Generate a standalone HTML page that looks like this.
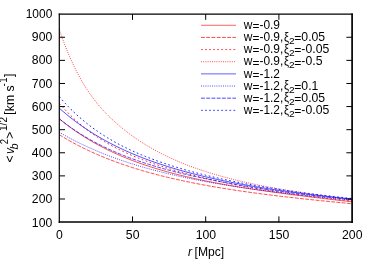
<!DOCTYPE html>
<html><head><meta charset="utf-8"><style>html,body{margin:0;padding:0;background:#fff;overflow:hidden}body{width:374px;height:261px;position:relative}</style></head><body>
<svg width="374" height="261" viewBox="0 0 374 261" style="position:absolute;left:0;top:0;will-change:transform">
<rect x="0" y="0" width="374" height="261" fill="#fff"/>
<path d="M59.30,118.72 L60.76,119.93 L62.23,121.12 L63.69,122.30 L65.16,123.45 L66.62,124.58 L68.08,125.69 L69.55,126.79 L71.01,127.87 L72.48,128.92 L73.94,129.97 L75.40,130.99 L76.87,132.00 L78.33,132.99 L79.80,133.96 L81.26,134.92 L82.72,135.86 L84.19,136.79 L85.65,137.70 L87.12,138.60 L88.58,139.49 L90.04,140.36 L91.51,141.21 L92.97,142.06 L94.44,142.88 L95.90,143.70 L97.36,144.50 L98.83,145.30 L100.29,146.07 L101.76,146.84 L103.22,147.60 L104.68,148.34 L106.15,149.07 L107.61,149.79 L109.08,150.50 L110.54,151.20 L112.00,151.89 L113.47,152.57 L114.93,153.24 L116.40,153.90 L117.86,154.55 L119.32,155.18 L120.79,155.81 L122.25,156.43 L123.72,157.05 L125.18,157.65 L126.64,158.24 L128.11,158.83 L129.57,159.41 L131.04,159.97 L132.50,160.53 L133.96,161.09 L135.43,161.63 L136.89,162.17 L138.36,162.70 L139.82,163.22 L141.28,163.74 L142.75,164.25 L144.21,164.75 L145.68,165.24 L147.14,165.73 L148.60,166.21 L150.07,166.69 L151.53,167.15 L153.00,167.62 L154.46,168.07 L155.92,168.52 L157.39,168.97 L158.85,169.40 L160.32,169.84 L161.78,170.26 L163.24,170.68 L164.71,171.10 L166.17,171.51 L167.64,171.92 L169.10,172.32 L170.56,172.71 L172.03,173.10 L173.49,173.49 L174.96,173.87 L176.42,174.25 L177.88,174.62 L179.35,174.99 L180.81,175.35 L182.28,175.71 L183.74,176.06 L185.20,176.41 L186.67,176.76 L188.13,177.10 L189.60,177.44 L191.06,177.77 L192.52,178.10 L193.99,178.43 L195.45,178.75 L196.92,179.07 L198.38,179.39 L199.84,179.70 L201.31,180.01 L202.77,180.32 L204.24,180.62 L205.70,180.92 L207.16,181.22 L208.63,181.51 L210.09,181.80 L211.56,182.09 L213.02,182.37 L214.48,182.65 L215.95,182.93 L217.41,183.21 L218.88,183.48 L220.34,183.75 L221.80,184.02 L223.27,184.28 L224.73,184.55 L226.20,184.81 L227.66,185.07 L229.12,185.32 L230.59,185.57 L232.05,185.83 L233.52,186.07 L234.98,186.32 L236.44,186.57 L237.91,186.81 L239.37,187.05 L240.84,187.29 L242.30,187.52 L243.76,187.76 L245.23,187.99 L246.69,188.22 L248.16,188.45 L249.62,188.67 L251.08,188.90 L252.55,189.12 L254.01,189.34 L255.48,189.56 L256.94,189.78 L258.40,190.00 L259.87,190.21 L261.33,190.43 L262.80,190.64 L264.26,190.85 L265.72,191.06 L267.19,191.27 L268.65,191.47 L270.12,191.68 L271.58,191.88 L273.04,192.09 L274.51,192.29 L275.97,192.49 L277.44,192.69 L278.90,192.88 L280.36,193.08 L281.83,193.28 L283.29,193.47 L284.76,193.66 L286.22,193.86 L287.68,194.05 L289.15,194.24 L290.61,194.43 L292.08,194.62 L293.54,194.80 L295.00,194.99 L296.47,195.18 L297.93,195.36 L299.40,195.55 L300.86,195.73 L302.32,195.91 L303.79,196.09 L305.25,196.28 L306.72,196.46 L308.18,196.64 L309.64,196.82 L311.11,197.00 L312.57,197.17 L314.04,197.35 L315.50,197.53 L316.96,197.71 L318.43,197.88 L319.89,198.06 L321.36,198.23 L322.82,198.41 L324.28,198.58 L325.75,198.76 L327.21,198.93 L328.68,199.10 L330.14,199.27 L331.60,199.45 L333.07,199.62 L334.53,199.79 L336.00,199.96 L337.46,200.13 L338.92,200.30 L340.39,200.47 L341.85,200.65 L343.32,200.82 L344.78,200.99 L346.24,201.16 L347.71,201.33 L349.17,201.49 L350.64,201.66 L352.10,201.83" fill="none" stroke="#ff0000" stroke-width="0.72"/>
<path d="M59.30,134.72 L60.76,135.62 L62.23,136.51 L63.69,137.39 L65.16,138.26 L66.62,139.11 L68.08,139.95 L69.55,140.78 L71.01,141.60 L72.48,142.40 L73.94,143.20 L75.40,143.98 L76.87,144.76 L78.33,145.52 L79.80,146.27 L81.26,147.01 L82.72,147.74 L84.19,148.46 L85.65,149.18 L87.12,149.88 L88.58,150.57 L90.04,151.25 L91.51,151.93 L92.97,152.59 L94.44,153.25 L95.90,153.89 L97.36,154.53 L98.83,155.16 L100.29,155.79 L101.76,156.40 L103.22,157.00 L104.68,157.60 L106.15,158.19 L107.61,158.77 L109.08,159.35 L110.54,159.92 L112.00,160.48 L113.47,161.03 L114.93,161.57 L116.40,162.11 L117.86,162.64 L119.32,163.17 L120.79,163.69 L122.25,164.20 L123.72,164.71 L125.18,165.21 L126.64,165.70 L128.11,166.19 L129.57,166.67 L131.04,167.14 L132.50,167.61 L133.96,168.07 L135.43,168.53 L136.89,168.98 L138.36,169.43 L139.82,169.87 L141.28,170.31 L142.75,170.74 L144.21,171.17 L145.68,171.59 L147.14,172.00 L148.60,172.41 L150.07,172.82 L151.53,173.22 L153.00,173.62 L154.46,174.01 L155.92,174.40 L157.39,174.78 L158.85,175.16 L160.32,175.53 L161.78,175.90 L163.24,176.27 L164.71,176.63 L166.17,176.99 L167.64,177.34 L169.10,177.69 L170.56,178.03 L172.03,178.38 L173.49,178.71 L174.96,179.05 L176.42,179.38 L177.88,179.71 L179.35,180.03 L180.81,180.35 L182.28,180.67 L183.74,180.98 L185.20,181.29 L186.67,181.60 L188.13,181.90 L189.60,182.20 L191.06,182.50 L192.52,182.79 L193.99,183.08 L195.45,183.37 L196.92,183.65 L198.38,183.94 L199.84,184.21 L201.31,184.49 L202.77,184.76 L204.24,185.04 L205.70,185.30 L207.16,185.57 L208.63,185.83 L210.09,186.09 L211.56,186.35 L213.02,186.61 L214.48,186.86 L215.95,187.11 L217.41,187.36 L218.88,187.60 L220.34,187.85 L221.80,188.09 L223.27,188.33 L224.73,188.56 L226.20,188.80 L227.66,189.03 L229.12,189.26 L230.59,189.49 L232.05,189.71 L233.52,189.94 L234.98,190.16 L236.44,190.38 L237.91,190.60 L239.37,190.82 L240.84,191.03 L242.30,191.24 L243.76,191.45 L245.23,191.66 L246.69,191.87 L248.16,192.08 L249.62,192.28 L251.08,192.48 L252.55,192.68 L254.01,192.88 L255.48,193.08 L256.94,193.28 L258.40,193.47 L259.87,193.67 L261.33,193.86 L262.80,194.05 L264.26,194.24 L265.72,194.42 L267.19,194.61 L268.65,194.80 L270.12,194.98 L271.58,195.16 L273.04,195.34 L274.51,195.52 L275.97,195.70 L277.44,195.88 L278.90,196.05 L280.36,196.23 L281.83,196.40 L283.29,196.57 L284.76,196.75 L286.22,196.92 L287.68,197.09 L289.15,197.25 L290.61,197.42 L292.08,197.59 L293.54,197.75 L295.00,197.92 L296.47,198.08 L297.93,198.24 L299.40,198.40 L300.86,198.57 L302.32,198.73 L303.79,198.88 L305.25,199.04 L306.72,199.20 L308.18,199.36 L309.64,199.51 L311.11,199.67 L312.57,199.82 L314.04,199.97 L315.50,200.13 L316.96,200.28 L318.43,200.43 L319.89,200.58 L321.36,200.73 L322.82,200.88 L324.28,201.03 L325.75,201.18 L327.21,201.32 L328.68,201.47 L330.14,201.62 L331.60,201.76 L333.07,201.91 L334.53,202.05 L336.00,202.20 L337.46,202.34 L338.92,202.48 L340.39,202.63 L341.85,202.77 L343.32,202.91 L344.78,203.05 L346.24,203.19 L347.71,203.33 L349.17,203.47 L350.64,203.61 L352.10,203.75" fill="none" stroke="#ff0000" stroke-width="0.72" stroke-dasharray="3.9 1.33"/>
<path d="M59.30,103.25 L60.76,104.96 L62.23,106.63 L63.69,108.25 L65.16,109.85 L66.62,111.40 L68.08,112.92 L69.55,114.40 L71.01,115.85 L72.48,117.27 L73.94,118.65 L75.40,120.00 L76.87,121.32 L78.33,122.62 L79.80,123.88 L81.26,125.12 L82.72,126.33 L84.19,127.51 L85.65,128.67 L87.12,129.80 L88.58,130.91 L90.04,132.00 L91.51,133.06 L92.97,134.10 L94.44,135.12 L95.90,136.12 L97.36,137.09 L98.83,138.05 L100.29,138.99 L101.76,139.91 L103.22,140.81 L104.68,141.69 L106.15,142.56 L107.61,143.41 L109.08,144.24 L110.54,145.06 L112.00,145.86 L113.47,146.64 L114.93,147.42 L116.40,148.17 L117.86,148.92 L119.32,149.65 L120.79,150.36 L122.25,151.07 L123.72,151.76 L125.18,152.44 L126.64,153.10 L128.11,153.76 L129.57,154.41 L131.04,155.04 L132.50,155.66 L133.96,156.28 L135.43,156.88 L136.89,157.48 L138.36,158.06 L139.82,158.64 L141.28,159.21 L142.75,159.76 L144.21,160.31 L145.68,160.86 L147.14,161.39 L148.60,161.92 L150.07,162.44 L151.53,162.95 L153.00,163.46 L154.46,163.96 L155.92,164.45 L157.39,164.94 L158.85,165.42 L160.32,165.89 L161.78,166.36 L163.24,166.82 L164.71,167.28 L166.17,167.73 L167.64,168.18 L169.10,168.63 L170.56,169.07 L172.03,169.50 L173.49,169.93 L174.96,170.36 L176.42,170.78 L177.88,171.20 L179.35,171.61 L180.81,172.02 L182.28,172.42 L183.74,172.82 L185.20,173.22 L186.67,173.61 L188.13,174.00 L189.60,174.39 L191.06,174.77 L192.52,175.15 L193.99,175.52 L195.45,175.89 L196.92,176.26 L198.38,176.62 L199.84,176.98 L201.31,177.33 L202.77,177.69 L204.24,178.03 L205.70,178.38 L207.16,178.72 L208.63,179.06 L210.09,179.40 L211.56,179.73 L213.02,180.06 L214.48,180.38 L215.95,180.71 L217.41,181.03 L218.88,181.34 L220.34,181.66 L221.80,181.97 L223.27,182.28 L224.73,182.58 L226.20,182.88 L227.66,183.18 L229.12,183.48 L230.59,183.77 L232.05,184.06 L233.52,184.35 L234.98,184.64 L236.44,184.92 L237.91,185.20 L239.37,185.48 L240.84,185.75 L242.30,186.02 L243.76,186.29 L245.23,186.56 L246.69,186.83 L248.16,187.09 L249.62,187.35 L251.08,187.61 L252.55,187.86 L254.01,188.12 L255.48,188.37 L256.94,188.62 L258.40,188.86 L259.87,189.11 L261.33,189.35 L262.80,189.59 L264.26,189.83 L265.72,190.07 L267.19,190.30 L268.65,190.53 L270.12,190.76 L271.58,190.99 L273.04,191.21 L274.51,191.44 L275.97,191.66 L277.44,191.88 L278.90,192.10 L280.36,192.31 L281.83,192.53 L283.29,192.74 L284.76,192.95 L286.22,193.16 L287.68,193.37 L289.15,193.57 L290.61,193.78 L292.08,193.98 L293.54,194.18 L295.00,194.38 L296.47,194.57 L297.93,194.77 L299.40,194.96 L300.86,195.16 L302.32,195.35 L303.79,195.53 L305.25,195.72 L306.72,195.91 L308.18,196.09 L309.64,196.27 L311.11,196.46 L312.57,196.63 L314.04,196.81 L315.50,196.99 L316.96,197.17 L318.43,197.34 L319.89,197.51 L321.36,197.68 L322.82,197.85 L324.28,198.02 L325.75,198.19 L327.21,198.35 L328.68,198.52 L330.14,198.68 L331.60,198.84 L333.07,199.00 L334.53,199.16 L336.00,199.32 L337.46,199.48 L338.92,199.64 L340.39,199.79 L341.85,199.94 L343.32,200.10 L344.78,200.25 L346.24,200.40 L347.71,200.55 L349.17,200.69 L350.64,200.84 L352.10,200.99" fill="none" stroke="#ff0000" stroke-width="0.88" stroke-dasharray="1.7 2.5"/>
<path d="M59.30,29.47 L60.76,33.77 L62.23,37.90 L63.69,41.89 L65.16,45.73 L66.62,49.43 L68.08,53.01 L69.55,56.45 L71.01,59.77 L72.48,62.98 L73.94,66.07 L75.40,69.06 L76.87,71.95 L78.33,74.74 L79.80,77.43 L81.26,80.03 L82.72,82.55 L84.19,84.98 L85.65,87.33 L87.12,89.61 L88.58,91.81 L90.04,93.94 L91.51,96.00 L92.97,98.00 L94.44,99.94 L95.90,101.81 L97.36,103.63 L98.83,105.40 L100.29,107.12 L101.76,108.78 L103.22,110.40 L104.68,111.98 L106.15,113.52 L107.61,115.01 L109.08,116.47 L110.54,117.90 L112.00,119.29 L113.47,120.64 L114.93,121.97 L116.40,123.27 L117.86,124.54 L119.32,125.79 L120.79,127.02 L122.25,128.22 L123.72,129.40 L125.18,130.56 L126.64,131.69 L128.11,132.81 L129.57,133.91 L131.04,134.99 L132.50,136.04 L133.96,137.08 L135.43,138.11 L136.89,139.11 L138.36,140.10 L139.82,141.07 L141.28,142.02 L142.75,142.95 L144.21,143.87 L145.68,144.78 L147.14,145.67 L148.60,146.54 L150.07,147.40 L151.53,148.25 L153.00,149.08 L154.46,149.89 L155.92,150.70 L157.39,151.49 L158.85,152.26 L160.32,153.03 L161.78,153.78 L163.24,154.52 L164.71,155.24 L166.17,155.96 L167.64,156.66 L169.10,157.36 L170.56,158.04 L172.03,158.71 L173.49,159.37 L174.96,160.02 L176.42,160.66 L177.88,161.29 L179.35,161.91 L180.81,162.52 L182.28,163.12 L183.74,163.71 L185.20,164.29 L186.67,164.87 L188.13,165.43 L189.60,165.99 L191.06,166.54 L192.52,167.08 L193.99,167.61 L195.45,168.13 L196.92,168.65 L198.38,169.16 L199.84,169.66 L201.31,170.15 L202.77,170.64 L204.24,171.12 L205.70,171.59 L207.16,172.06 L208.63,172.52 L210.09,172.97 L211.56,173.42 L213.02,173.86 L214.48,174.29 L215.95,174.72 L217.41,175.14 L218.88,175.56 L220.34,175.97 L221.80,176.38 L223.27,176.78 L224.73,177.17 L226.20,177.56 L227.66,177.95 L229.12,178.33 L230.59,178.70 L232.05,179.07 L233.52,179.44 L234.98,179.80 L236.44,180.15 L237.91,180.51 L239.37,180.85 L240.84,181.20 L242.30,181.54 L243.76,181.87 L245.23,182.20 L246.69,182.53 L248.16,182.85 L249.62,183.17 L251.08,183.48 L252.55,183.80 L254.01,184.10 L255.48,184.41 L256.94,184.71 L258.40,185.01 L259.87,185.30 L261.33,185.59 L262.80,185.88 L264.26,186.17 L265.72,186.45 L267.19,186.73 L268.65,187.00 L270.12,187.28 L271.58,187.55 L273.04,187.82 L274.51,188.08 L275.97,188.34 L277.44,188.60 L278.90,188.86 L280.36,189.12 L281.83,189.37 L283.29,189.62 L284.76,189.87 L286.22,190.11 L287.68,190.36 L289.15,190.60 L290.61,190.84 L292.08,191.08 L293.54,191.31 L295.00,191.54 L296.47,191.78 L297.93,192.01 L299.40,192.23 L300.86,192.46 L302.32,192.68 L303.79,192.91 L305.25,193.13 L306.72,193.35 L308.18,193.57 L309.64,193.78 L311.11,194.00 L312.57,194.21 L314.04,194.42 L315.50,194.63 L316.96,194.84 L318.43,195.05 L319.89,195.26 L321.36,195.47 L322.82,195.67 L324.28,195.87 L325.75,196.08 L327.21,196.28 L328.68,196.48 L330.14,196.68 L331.60,196.88 L333.07,197.07 L334.53,197.27 L336.00,197.47 L337.46,197.66 L338.92,197.86 L340.39,198.05 L341.85,198.24 L343.32,198.43 L344.78,198.62 L346.24,198.82 L347.71,199.01 L349.17,199.19 L350.64,199.38 L352.10,199.57" fill="none" stroke="#ff0000" stroke-width="0.72" stroke-dasharray="1.0 1.2"/>
<path d="M59.30,108.15 L60.76,109.45 L62.23,110.73 L63.69,111.99 L65.16,113.22 L66.62,114.44 L68.08,115.64 L69.55,116.82 L71.01,117.98 L72.48,119.12 L73.94,120.24 L75.40,121.35 L76.87,122.44 L78.33,123.51 L79.80,124.56 L81.26,125.60 L82.72,126.62 L84.19,127.63 L85.65,128.62 L87.12,129.60 L88.58,130.56 L90.04,131.51 L91.51,132.44 L92.97,133.36 L94.44,134.26 L95.90,135.15 L97.36,136.03 L98.83,136.90 L100.29,137.75 L101.76,138.59 L103.22,139.42 L104.68,140.23 L106.15,141.04 L107.61,141.83 L109.08,142.61 L110.54,143.38 L112.00,144.14 L113.47,144.89 L114.93,145.62 L116.40,146.35 L117.86,147.07 L119.32,147.77 L120.79,148.47 L122.25,149.16 L123.72,149.84 L125.18,150.50 L126.64,151.16 L128.11,151.81 L129.57,152.46 L131.04,153.09 L132.50,153.71 L133.96,154.33 L135.43,154.94 L136.89,155.54 L138.36,156.13 L139.82,156.72 L141.28,157.29 L142.75,157.86 L144.21,158.42 L145.68,158.98 L147.14,159.53 L148.60,160.07 L150.07,160.60 L151.53,161.13 L153.00,161.65 L154.46,162.17 L155.92,162.67 L157.39,163.18 L158.85,163.67 L160.32,164.16 L161.78,164.64 L163.24,165.12 L164.71,165.59 L166.17,166.06 L167.64,166.52 L169.10,166.98 L170.56,167.43 L172.03,167.87 L173.49,168.31 L174.96,168.75 L176.42,169.18 L177.88,169.60 L179.35,170.02 L180.81,170.44 L182.28,170.85 L183.74,171.25 L185.20,171.66 L186.67,172.05 L188.13,172.45 L189.60,172.83 L191.06,173.22 L192.52,173.60 L193.99,173.97 L195.45,174.34 L196.92,174.71 L198.38,175.07 L199.84,175.43 L201.31,175.79 L202.77,176.14 L204.24,176.49 L205.70,176.83 L207.16,177.17 L208.63,177.51 L210.09,177.84 L211.56,178.17 L213.02,178.49 L214.48,178.82 L215.95,179.14 L217.41,179.45 L218.88,179.76 L220.34,180.07 L221.80,180.38 L223.27,180.68 L224.73,180.98 L226.20,181.28 L227.66,181.57 L229.12,181.86 L230.59,182.15 L232.05,182.44 L233.52,182.72 L234.98,183.00 L236.44,183.28 L237.91,183.55 L239.37,183.82 L240.84,184.09 L242.30,184.36 L243.76,184.62 L245.23,184.88 L246.69,185.14 L248.16,185.39 L249.62,185.65 L251.08,185.90 L252.55,186.15 L254.01,186.39 L255.48,186.64 L256.94,186.88 L258.40,187.12 L259.87,187.36 L261.33,187.59 L262.80,187.83 L264.26,188.06 L265.72,188.29 L267.19,188.51 L268.65,188.74 L270.12,188.96 L271.58,189.18 L273.04,189.40 L274.51,189.62 L275.97,189.84 L277.44,190.05 L278.90,190.26 L280.36,190.47 L281.83,190.68 L283.29,190.89 L284.76,191.09 L286.22,191.29 L287.68,191.50 L289.15,191.70 L290.61,191.89 L292.08,192.09 L293.54,192.29 L295.00,192.48 L296.47,192.67 L297.93,192.86 L299.40,193.05 L300.86,193.24 L302.32,193.43 L303.79,193.61 L305.25,193.80 L306.72,193.98 L308.18,194.16 L309.64,194.34 L311.11,194.52 L312.57,194.69 L314.04,194.87 L315.50,195.04 L316.96,195.22 L318.43,195.39 L319.89,195.56 L321.36,195.73 L322.82,195.90 L324.28,196.07 L325.75,196.23 L327.21,196.40 L328.68,196.56 L330.14,196.73 L331.60,196.89 L333.07,197.05 L334.53,197.21 L336.00,197.37 L337.46,197.53 L338.92,197.69 L340.39,197.84 L341.85,198.00 L343.32,198.15 L344.78,198.31 L346.24,198.46 L347.71,198.61 L349.17,198.76 L350.64,198.92 L352.10,199.06" fill="none" stroke="#0000ff" stroke-width="0.72"/>
<path d="M59.30,132.20 L60.76,133.06 L62.23,133.90 L63.69,134.74 L65.16,135.57 L66.62,136.38 L68.08,137.18 L69.55,137.98 L71.01,138.76 L72.48,139.53 L73.94,140.29 L75.40,141.05 L76.87,141.79 L78.33,142.52 L79.80,143.24 L81.26,143.96 L82.72,144.66 L84.19,145.35 L85.65,146.04 L87.12,146.72 L88.58,147.39 L90.04,148.05 L91.51,148.70 L92.97,149.34 L94.44,149.97 L95.90,150.60 L97.36,151.22 L98.83,151.83 L100.29,152.44 L101.76,153.03 L103.22,153.62 L104.68,154.20 L106.15,154.78 L107.61,155.34 L109.08,155.90 L110.54,156.46 L112.00,157.00 L113.47,157.54 L114.93,158.07 L116.40,158.60 L117.86,159.12 L119.32,159.64 L120.79,160.14 L122.25,160.65 L123.72,161.14 L125.18,161.63 L126.64,162.12 L128.11,162.59 L129.57,163.07 L131.04,163.53 L132.50,164.00 L133.96,164.45 L135.43,164.90 L136.89,165.35 L138.36,165.79 L139.82,166.22 L141.28,166.66 L142.75,167.08 L144.21,167.50 L145.68,167.92 L147.14,168.33 L148.60,168.74 L150.07,169.14 L151.53,169.54 L153.00,169.93 L154.46,170.32 L155.92,170.70 L157.39,171.08 L158.85,171.46 L160.32,171.83 L161.78,172.20 L163.24,172.56 L164.71,172.92 L166.17,173.28 L167.64,173.63 L169.10,173.98 L170.56,174.32 L172.03,174.66 L173.49,175.00 L174.96,175.33 L176.42,175.66 L177.88,175.99 L179.35,176.31 L180.81,176.63 L182.28,176.95 L183.74,177.26 L185.20,177.57 L186.67,177.88 L188.13,178.19 L189.60,178.49 L191.06,178.78 L192.52,179.08 L193.99,179.37 L195.45,179.66 L196.92,179.95 L198.38,180.23 L199.84,180.51 L201.31,180.79 L202.77,181.06 L204.24,181.33 L205.70,181.60 L207.16,181.87 L208.63,182.13 L210.09,182.40 L211.56,182.66 L213.02,182.91 L214.48,183.17 L215.95,183.42 L217.41,183.67 L218.88,183.92 L220.34,184.16 L221.80,184.41 L223.27,184.65 L224.73,184.89 L226.20,185.12 L227.66,185.36 L229.12,185.59 L230.59,185.82 L232.05,186.05 L233.52,186.28 L234.98,186.50 L236.44,186.72 L237.91,186.94 L239.37,187.16 L240.84,187.38 L242.30,187.59 L243.76,187.81 L245.23,188.02 L246.69,188.23 L248.16,188.44 L249.62,188.64 L251.08,188.85 L252.55,189.05 L254.01,189.25 L255.48,189.45 L256.94,189.65 L258.40,189.85 L259.87,190.05 L261.33,190.24 L262.80,190.43 L264.26,190.62 L265.72,190.81 L267.19,191.00 L268.65,191.19 L270.12,191.37 L271.58,191.56 L273.04,191.74 L274.51,191.92 L275.97,192.10 L277.44,192.28 L278.90,192.46 L280.36,192.64 L281.83,192.81 L283.29,192.99 L284.76,193.16 L286.22,193.33 L287.68,193.50 L289.15,193.67 L290.61,193.84 L292.08,194.01 L293.54,194.18 L295.00,194.34 L296.47,194.51 L297.93,194.67 L299.40,194.84 L300.86,195.00 L302.32,195.16 L303.79,195.32 L305.25,195.48 L306.72,195.64 L308.18,195.79 L309.64,195.95 L311.11,196.11 L312.57,196.26 L314.04,196.42 L315.50,196.57 L316.96,196.72 L318.43,196.88 L319.89,197.03 L321.36,197.18 L322.82,197.33 L324.28,197.48 L325.75,197.63 L327.21,197.77 L328.68,197.92 L330.14,198.07 L331.60,198.21 L333.07,198.36 L334.53,198.50 L336.00,198.65 L337.46,198.79 L338.92,198.94 L340.39,199.08 L341.85,199.22 L343.32,199.36 L344.78,199.50 L346.24,199.64 L347.71,199.79 L349.17,199.93 L350.64,200.06 L352.10,200.20" fill="none" stroke="#0000ff" stroke-width="0.72" stroke-dasharray="1.0 1.2"/>
<path d="M59.30,118.87 L60.76,120.03 L62.23,121.18 L63.69,122.31 L65.16,123.41 L66.62,124.50 L68.08,125.57 L69.55,126.62 L71.01,127.65 L72.48,128.67 L73.94,129.66 L75.40,130.65 L76.87,131.61 L78.33,132.56 L79.80,133.49 L81.26,134.41 L82.72,135.31 L84.19,136.20 L85.65,137.07 L87.12,137.93 L88.58,138.77 L90.04,139.60 L91.51,140.42 L92.97,141.23 L94.44,142.02 L95.90,142.80 L97.36,143.56 L98.83,144.32 L100.29,145.06 L101.76,145.79 L103.22,146.51 L104.68,147.22 L106.15,147.92 L107.61,148.61 L109.08,149.29 L110.54,149.95 L112.00,150.61 L113.47,151.26 L114.93,151.90 L116.40,152.53 L117.86,153.14 L119.32,153.75 L120.79,154.36 L122.25,154.95 L123.72,155.53 L125.18,156.11 L126.64,156.67 L128.11,157.23 L129.57,157.79 L131.04,158.33 L132.50,158.87 L133.96,159.39 L135.43,159.92 L136.89,160.43 L138.36,160.94 L139.82,161.44 L141.28,161.93 L142.75,162.42 L144.21,162.90 L145.68,163.38 L147.14,163.84 L148.60,164.31 L150.07,164.76 L151.53,165.21 L153.00,165.66 L154.46,166.10 L155.92,166.53 L157.39,166.96 L158.85,167.39 L160.32,167.80 L161.78,168.22 L163.24,168.63 L164.71,169.03 L166.17,169.43 L167.64,169.82 L169.10,170.21 L170.56,170.60 L172.03,170.98 L173.49,171.36 L174.96,171.73 L176.42,172.10 L177.88,172.46 L179.35,172.82 L180.81,173.18 L182.28,173.54 L183.74,173.88 L185.20,174.23 L186.67,174.57 L188.13,174.91 L189.60,175.25 L191.06,175.58 L192.52,175.91 L193.99,176.24 L195.45,176.56 L196.92,176.88 L198.38,177.20 L199.84,177.51 L201.31,177.82 L202.77,178.13 L204.24,178.44 L205.70,178.74 L207.16,179.05 L208.63,179.34 L210.09,179.64 L211.56,179.94 L213.02,180.23 L214.48,180.52 L215.95,180.80 L217.41,181.09 L218.88,181.37 L220.34,181.65 L221.80,181.93 L223.27,182.20 L224.73,182.48 L226.20,182.75 L227.66,183.02 L229.12,183.28 L230.59,183.55 L232.05,183.81 L233.52,184.07 L234.98,184.33 L236.44,184.58 L237.91,184.84 L239.37,185.09 L240.84,185.34 L242.30,185.59 L243.76,185.83 L245.23,186.08 L246.69,186.32 L248.16,186.56 L249.62,186.80 L251.08,187.04 L252.55,187.27 L254.01,187.50 L255.48,187.73 L256.94,187.96 L258.40,188.19 L259.87,188.42 L261.33,188.64 L262.80,188.86 L264.26,189.08 L265.72,189.30 L267.19,189.52 L268.65,189.73 L270.12,189.94 L271.58,190.16 L273.04,190.37 L274.51,190.57 L275.97,190.78 L277.44,190.99 L278.90,191.19 L280.36,191.39 L281.83,191.59 L283.29,191.79 L284.76,191.99 L286.22,192.18 L287.68,192.38 L289.15,192.57 L290.61,192.76 L292.08,192.95 L293.54,193.14 L295.00,193.33 L296.47,193.51 L297.93,193.70 L299.40,193.88 L300.86,194.06 L302.32,194.24 L303.79,194.42 L305.25,194.60 L306.72,194.77 L308.18,194.95 L309.64,195.12 L311.11,195.29 L312.57,195.46 L314.04,195.63 L315.50,195.80 L316.96,195.97 L318.43,196.13 L319.89,196.30 L321.36,196.46 L322.82,196.62 L324.28,196.78 L325.75,196.94 L327.21,197.10 L328.68,197.26 L330.14,197.41 L331.60,197.57 L333.07,197.72 L334.53,197.87 L336.00,198.02 L337.46,198.17 L338.92,198.32 L340.39,198.47 L341.85,198.62 L343.32,198.76 L344.78,198.91 L346.24,199.05 L347.71,199.19 L349.17,199.34 L350.64,199.48 L352.10,199.62" fill="none" stroke="#0000ff" stroke-width="0.72" stroke-dasharray="3.9 1.33"/>
<path d="M59.30,96.67 L60.76,98.38 L62.23,100.04 L63.69,101.67 L65.16,103.27 L66.62,104.83 L68.08,106.36 L69.55,107.86 L71.01,109.33 L72.48,110.76 L73.94,112.17 L75.40,113.55 L76.87,114.89 L78.33,116.22 L79.80,117.51 L81.26,118.78 L82.72,120.02 L84.19,121.24 L85.65,122.44 L87.12,123.61 L88.58,124.76 L90.04,125.88 L91.51,126.99 L92.97,128.07 L94.44,129.13 L95.90,130.18 L97.36,131.20 L98.83,132.20 L100.29,133.19 L101.76,134.15 L103.22,135.10 L104.68,136.03 L106.15,136.95 L107.61,137.85 L109.08,138.73 L110.54,139.59 L112.00,140.45 L113.47,141.28 L114.93,142.10 L116.40,142.91 L117.86,143.70 L119.32,144.48 L120.79,145.25 L122.25,146.00 L123.72,146.74 L125.18,147.47 L126.64,148.19 L128.11,148.89 L129.57,149.59 L131.04,150.27 L132.50,150.94 L133.96,151.60 L135.43,152.26 L136.89,152.90 L138.36,153.53 L139.82,154.15 L141.28,154.76 L142.75,155.37 L144.21,155.96 L145.68,156.55 L147.14,157.12 L148.60,157.69 L150.07,158.25 L151.53,158.81 L153.00,159.35 L154.46,159.89 L155.92,160.42 L157.39,160.95 L158.85,161.47 L160.32,161.98 L161.78,162.48 L163.24,162.98 L164.71,163.47 L166.17,163.96 L167.64,164.44 L169.10,164.91 L170.56,165.38 L172.03,165.85 L173.49,166.31 L174.96,166.76 L176.42,167.21 L177.88,167.65 L179.35,168.09 L180.81,168.52 L182.28,168.95 L183.74,169.38 L185.20,169.80 L186.67,170.21 L188.13,170.62 L189.60,171.02 L191.06,171.43 L192.52,171.82 L193.99,172.21 L195.45,172.60 L196.92,172.99 L198.38,173.37 L199.84,173.74 L201.31,174.11 L202.77,174.48 L204.24,174.84 L205.70,175.20 L207.16,175.56 L208.63,175.91 L210.09,176.26 L211.56,176.60 L213.02,176.95 L214.48,177.28 L215.95,177.62 L217.41,177.95 L218.88,178.28 L220.34,178.60 L221.80,178.92 L223.27,179.24 L224.73,179.55 L226.20,179.86 L227.66,180.17 L229.12,180.48 L230.59,180.78 L232.05,181.08 L233.52,181.37 L234.98,181.67 L236.44,181.96 L237.91,182.24 L239.37,182.53 L240.84,182.81 L242.30,183.09 L243.76,183.36 L245.23,183.64 L246.69,183.91 L248.16,184.18 L249.62,184.44 L251.08,184.71 L252.55,184.97 L254.01,185.23 L255.48,185.48 L256.94,185.74 L258.40,185.99 L259.87,186.24 L261.33,186.49 L262.80,186.73 L264.26,186.97 L265.72,187.21 L267.19,187.45 L268.65,187.69 L270.12,187.92 L271.58,188.15 L273.04,188.38 L274.51,188.61 L275.97,188.84 L277.44,189.06 L278.90,189.29 L280.36,189.51 L281.83,189.72 L283.29,189.94 L284.76,190.16 L286.22,190.37 L287.68,190.58 L289.15,190.79 L290.61,191.00 L292.08,191.21 L293.54,191.41 L295.00,191.61 L296.47,191.82 L297.93,192.02 L299.40,192.21 L300.86,192.41 L302.32,192.61 L303.79,192.80 L305.25,192.99 L306.72,193.18 L308.18,193.37 L309.64,193.56 L311.11,193.75 L312.57,193.93 L314.04,194.12 L315.50,194.30 L316.96,194.48 L318.43,194.66 L319.89,194.84 L321.36,195.02 L322.82,195.20 L324.28,195.37 L325.75,195.54 L327.21,195.72 L328.68,195.89 L330.14,196.06 L331.60,196.23 L333.07,196.40 L334.53,196.57 L336.00,196.73 L337.46,196.90 L338.92,197.06 L340.39,197.23 L341.85,197.39 L343.32,197.55 L344.78,197.71 L346.24,197.87 L347.71,198.03 L349.17,198.18 L350.64,198.34 L352.10,198.50" fill="none" stroke="#0000ff" stroke-width="0.88" stroke-dasharray="1.7 2.5"/>
<path d="M201.0,25.28 L236.0,25.28" fill="none" stroke="#ff0000" stroke-width="0.62"/>
<path d="M201.0,37.43 L236.0,37.43" fill="none" stroke="#ff0000" stroke-width="0.72" stroke-dasharray="3.9 1.33"/>
<path d="M201.0,49.58 L236.0,49.58" fill="none" stroke="#ff0000" stroke-width="0.75" stroke-dasharray="1.8 2.25"/>
<path d="M201.0,61.73 L236.0,61.73" fill="none" stroke="#ff0000" stroke-width="0.7" stroke-dasharray="1.0 1.2"/>
<path d="M201.0,73.88 L236.0,73.88" fill="none" stroke="#0000ff" stroke-width="0.62"/>
<path d="M201.0,86.03 L236.0,86.03" fill="none" stroke="#0000ff" stroke-width="0.7" stroke-dasharray="1.0 1.2"/>
<path d="M201.0,98.18 L236.0,98.18" fill="none" stroke="#0000ff" stroke-width="0.72" stroke-dasharray="3.9 1.33"/>
<path d="M201.0,110.33 L236.0,110.33" fill="none" stroke="#0000ff" stroke-width="0.75" stroke-dasharray="1.8 2.25"/>
<path d="M59.3,13.55 V222.9" stroke="#000" stroke-width="1.2" fill="none"/>
<path d="M58.699999999999996,14.15 H352.90000000000003" stroke="#000" stroke-width="1.2" fill="none"/>
<path d="M352.1,13.55 V222.9" stroke="#000" stroke-width="1.7" fill="none"/>
<path d="M58.699999999999996,222.0 H352.90000000000003" stroke="#000" stroke-width="1.6" fill="none"/>
<path d="M59.3,198.99 h5.7 M352.1,198.99 h-5.7" stroke="#000" stroke-width="1" fill="none"/>
<path d="M59.3,175.89 h5.7 M352.1,175.89 h-5.7" stroke="#000" stroke-width="1" fill="none"/>
<path d="M59.3,152.78 h5.7 M352.1,152.78 h-5.7" stroke="#000" stroke-width="1" fill="none"/>
<path d="M59.3,129.68 h5.7 M352.1,129.68 h-5.7" stroke="#000" stroke-width="1" fill="none"/>
<path d="M59.3,106.57 h5.7 M352.1,106.57 h-5.7" stroke="#000" stroke-width="1" fill="none"/>
<path d="M59.3,83.47 h5.7 M352.1,83.47 h-5.7" stroke="#000" stroke-width="1" fill="none"/>
<path d="M59.3,60.36 h5.7 M352.1,60.36 h-5.7" stroke="#000" stroke-width="1" fill="none"/>
<path d="M59.3,37.26 h5.7 M352.1,37.26 h-5.7" stroke="#000" stroke-width="1" fill="none"/>
<path d="M132.50,222.1 v-5.7 M132.50,14.15 v5.7" stroke="#000" stroke-width="1" fill="none"/>
<path d="M205.70,222.1 v-5.7 M205.70,14.15 v5.7" stroke="#000" stroke-width="1" fill="none"/>
<path d="M278.90,222.1 v-5.7 M278.90,14.15 v5.7" stroke="#000" stroke-width="1" fill="none"/>
<text transform="translate(52.30,226.50) scale(0.98,1.06)" text-anchor="end" style="font-family:'Liberation Sans',sans-serif;font-size:12.5px;fill:#000">100</text>
<text transform="translate(52.30,203.09) scale(0.98,1.06)" text-anchor="end" style="font-family:'Liberation Sans',sans-serif;font-size:12.5px;fill:#000">200</text>
<text transform="translate(52.30,179.99) scale(0.98,1.06)" text-anchor="end" style="font-family:'Liberation Sans',sans-serif;font-size:12.5px;fill:#000">300</text>
<text transform="translate(52.30,156.88) scale(0.98,1.06)" text-anchor="end" style="font-family:'Liberation Sans',sans-serif;font-size:12.5px;fill:#000">400</text>
<text transform="translate(52.30,133.78) scale(0.98,1.06)" text-anchor="end" style="font-family:'Liberation Sans',sans-serif;font-size:12.5px;fill:#000">500</text>
<text transform="translate(52.30,110.67) scale(0.98,1.06)" text-anchor="end" style="font-family:'Liberation Sans',sans-serif;font-size:12.5px;fill:#000">600</text>
<text transform="translate(52.30,87.57) scale(0.98,1.06)" text-anchor="end" style="font-family:'Liberation Sans',sans-serif;font-size:12.5px;fill:#000">700</text>
<text transform="translate(52.30,64.46) scale(0.98,1.06)" text-anchor="end" style="font-family:'Liberation Sans',sans-serif;font-size:12.5px;fill:#000">800</text>
<text transform="translate(52.30,41.36) scale(0.98,1.06)" text-anchor="end" style="font-family:'Liberation Sans',sans-serif;font-size:12.5px;fill:#000">900</text>
<text transform="translate(52.30,18.00) scale(0.955,1.06)" text-anchor="end" style="font-family:'Liberation Sans',sans-serif;font-size:12.5px;fill:#000">1000</text>
<text transform="translate(59.45,238.70) scale(0.98,1.04)" text-anchor="middle" style="font-family:'Liberation Sans',sans-serif;font-size:12.5px;fill:#000">0</text>
<text transform="translate(132.65,238.70) scale(0.98,1.04)" text-anchor="middle" style="font-family:'Liberation Sans',sans-serif;font-size:12.5px;fill:#000">50</text>
<text transform="translate(205.85,238.70) scale(0.98,1.04)" text-anchor="middle" style="font-family:'Liberation Sans',sans-serif;font-size:12.5px;fill:#000">100</text>
<text transform="translate(279.05,238.70) scale(0.98,1.04)" text-anchor="middle" style="font-family:'Liberation Sans',sans-serif;font-size:12.5px;fill:#000">150</text>
<text transform="translate(352.25,238.70) scale(0.98,1.04)" text-anchor="middle" style="font-family:'Liberation Sans',sans-serif;font-size:12.5px;fill:#000">200</text>
<text transform="translate(243.80,29.03) scale(0.955,1.03)" text-anchor="start" style="font-family:'Liberation Sans',sans-serif;font-size:12.5px;fill:#000">w<tspan dy="1.1">=</tspan><tspan dy="-1.1">-</tspan>0.9</text>
<text transform="translate(243.80,41.18) scale(0.955,1.03)" text-anchor="start" style="font-family:'Liberation Sans',sans-serif;font-size:12.5px;fill:#000">w<tspan dy="1.1">=</tspan><tspan dy="-1.1">-</tspan>0.9,</text>
<text transform="translate(284.0,40.68) scale(0.83,1.0)" style="font-family:'Liberation Sans',sans-serif;font-size:12.5px;fill:#000;font-size:13.5px">ξ</text>
<text transform="translate(288.9,44.18) scale(1.08,1.0)" style="font-family:'Liberation Sans',sans-serif;font-size:12.5px;fill:#000;font-size:9.4px">2</text>
<text transform="translate(294.2,41.18) scale(0.98,1.03)" style="font-family:'Liberation Sans',sans-serif;font-size:12.5px;fill:#000"><tspan dy="1.1">=</tspan><tspan dy="-1.1">0</tspan>.05</text>
<text transform="translate(243.80,53.33) scale(0.955,1.03)" text-anchor="start" style="font-family:'Liberation Sans',sans-serif;font-size:12.5px;fill:#000">w<tspan dy="1.1">=</tspan><tspan dy="-1.1">-</tspan>0.9,</text>
<text transform="translate(284.0,52.83) scale(0.83,1.0)" style="font-family:'Liberation Sans',sans-serif;font-size:12.5px;fill:#000;font-size:13.5px">ξ</text>
<text transform="translate(288.9,56.33) scale(1.08,1.0)" style="font-family:'Liberation Sans',sans-serif;font-size:12.5px;fill:#000;font-size:9.4px">2</text>
<text transform="translate(294.2,53.33) scale(0.98,1.03)" style="font-family:'Liberation Sans',sans-serif;font-size:12.5px;fill:#000"><tspan dy="1.1">=</tspan><tspan dy="-1.1">-</tspan>0.05</text>
<text transform="translate(243.80,65.48) scale(0.955,1.03)" text-anchor="start" style="font-family:'Liberation Sans',sans-serif;font-size:12.5px;fill:#000">w<tspan dy="1.1">=</tspan><tspan dy="-1.1">-</tspan>0.9,</text>
<text transform="translate(284.0,64.98) scale(0.83,1.0)" style="font-family:'Liberation Sans',sans-serif;font-size:12.5px;fill:#000;font-size:13.5px">ξ</text>
<text transform="translate(288.9,68.48) scale(1.08,1.0)" style="font-family:'Liberation Sans',sans-serif;font-size:12.5px;fill:#000;font-size:9.4px">2</text>
<text transform="translate(294.2,65.48) scale(0.98,1.03)" style="font-family:'Liberation Sans',sans-serif;font-size:12.5px;fill:#000"><tspan dy="1.1">=</tspan><tspan dy="-1.1">-</tspan>0.5</text>
<text transform="translate(243.80,77.63) scale(0.955,1.03)" text-anchor="start" style="font-family:'Liberation Sans',sans-serif;font-size:12.5px;fill:#000">w<tspan dy="1.1">=</tspan><tspan dy="-1.1">-</tspan>1.2</text>
<text transform="translate(243.80,89.78) scale(0.955,1.03)" text-anchor="start" style="font-family:'Liberation Sans',sans-serif;font-size:12.5px;fill:#000">w<tspan dy="1.1">=</tspan><tspan dy="-1.1">-</tspan>1.2,</text>
<text transform="translate(284.0,89.28) scale(0.83,1.0)" style="font-family:'Liberation Sans',sans-serif;font-size:12.5px;fill:#000;font-size:13.5px">ξ</text>
<text transform="translate(288.9,92.78) scale(1.08,1.0)" style="font-family:'Liberation Sans',sans-serif;font-size:12.5px;fill:#000;font-size:9.4px">2</text>
<text transform="translate(294.2,89.78) scale(0.98,1.03)" style="font-family:'Liberation Sans',sans-serif;font-size:12.5px;fill:#000"><tspan dy="1.1">=</tspan><tspan dy="-1.1">0</tspan>.1</text>
<text transform="translate(243.80,101.93) scale(0.955,1.03)" text-anchor="start" style="font-family:'Liberation Sans',sans-serif;font-size:12.5px;fill:#000">w<tspan dy="1.1">=</tspan><tspan dy="-1.1">-</tspan>1.2,</text>
<text transform="translate(284.0,101.43) scale(0.83,1.0)" style="font-family:'Liberation Sans',sans-serif;font-size:12.5px;fill:#000;font-size:13.5px">ξ</text>
<text transform="translate(288.9,104.93) scale(1.08,1.0)" style="font-family:'Liberation Sans',sans-serif;font-size:12.5px;fill:#000;font-size:9.4px">2</text>
<text transform="translate(294.2,101.93) scale(0.98,1.03)" style="font-family:'Liberation Sans',sans-serif;font-size:12.5px;fill:#000"><tspan dy="1.1">=</tspan><tspan dy="-1.1">0</tspan>.05</text>
<text transform="translate(243.80,114.08) scale(0.955,1.03)" text-anchor="start" style="font-family:'Liberation Sans',sans-serif;font-size:12.5px;fill:#000">w<tspan dy="1.1">=</tspan><tspan dy="-1.1">-</tspan>1.2,</text>
<text transform="translate(284.0,113.58) scale(0.83,1.0)" style="font-family:'Liberation Sans',sans-serif;font-size:12.5px;fill:#000;font-size:13.5px">ξ</text>
<text transform="translate(288.9,117.08) scale(1.08,1.0)" style="font-family:'Liberation Sans',sans-serif;font-size:12.5px;fill:#000;font-size:9.4px">2</text>
<text transform="translate(294.2,114.08) scale(0.98,1.03)" style="font-family:'Liberation Sans',sans-serif;font-size:12.5px;fill:#000"><tspan dy="1.1">=</tspan><tspan dy="-1.1">-</tspan>0.05</text>
<text transform="translate(187.9,256.3) scale(0.97,1.03)" style="font-family:'Liberation Sans',sans-serif;font-size:12.5px;fill:#000;font-style:italic">r</text>
<text transform="translate(194.6,256.3) scale(0.97,1.03)" style="font-family:'Liberation Sans',sans-serif;font-size:12.5px;fill:#000">[Mpc]</text>
<g transform="translate(14.1,162.45) rotate(-90)"><text transform="translate(0,0) scale(0.955,1.03)" style="font-family:'Liberation Sans',sans-serif;font-size:12.5px;fill:#000">&lt;</text><text transform="translate(8.35,0) scale(0.955,1.03)" style="font-family:'Liberation Sans',sans-serif;font-size:12.5px;fill:#000;font-style:italic">v</text><text transform="translate(13.0,4.1) scale(1.1,1.03)" style="font-family:'Liberation Sans',sans-serif;font-size:10px;fill:#000;font-style:italic">b</text><text transform="translate(18.2,-6.5) scale(0.955,1.03)" style="font-family:'Liberation Sans',sans-serif;font-size:10px;fill:#000">2</text><text transform="translate(23.65,0) scale(0.955,1.03)" style="font-family:'Liberation Sans',sans-serif;font-size:12.5px;fill:#000">&gt;</text><text transform="translate(31.5,-6.8) scale(1.0,1.03)" style="font-family:'Liberation Sans',sans-serif;font-size:10px;fill:#000">1/2</text><text transform="translate(47.75,-1.3) scale(0.955,1.03)" style="font-family:'Liberation Sans',sans-serif;font-size:12.5px;fill:#000">[</text><text transform="translate(51.3,0) scale(0.98,1.03)" style="font-family:'Liberation Sans',sans-serif;font-size:12.5px;fill:#000">km s</text><text transform="translate(75.85,-6.8) scale(0.955,1.03)" style="font-family:'Liberation Sans',sans-serif;font-size:10px;fill:#000">-</text><text transform="translate(79.7,-6.8) scale(0.955,1.03)" style="font-family:'Liberation Sans',sans-serif;font-size:10px;fill:#000">1</text><text transform="translate(85.45,-1.3) scale(0.955,1.03)" style="font-family:'Liberation Sans',sans-serif;font-size:12.5px;fill:#000">]</text></g>
</svg>
</body></html>
